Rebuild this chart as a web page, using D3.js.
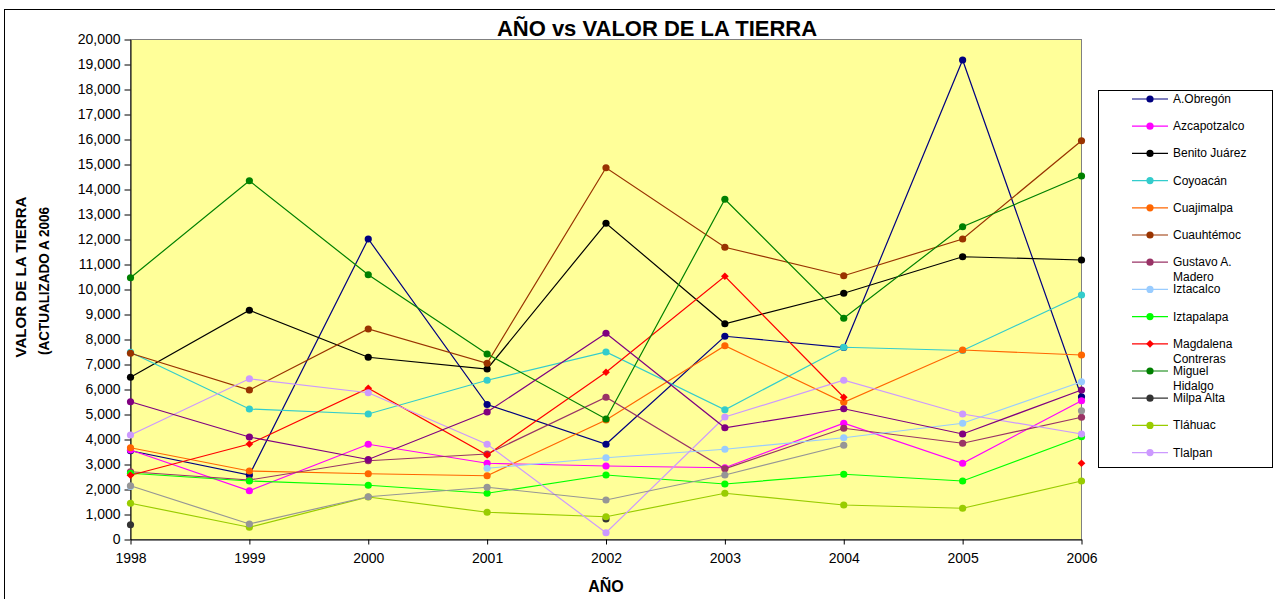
<!DOCTYPE html>
<html>
<head>
<meta charset="utf-8">
<script src="https://cdn.jsdelivr.net/npm/d3@7"></script>
<style>
    body { margin: 0; background: #fff; }
    svg text { font-family: "Liberation Sans", Arial, sans-serif; fill: #000; }
</style>
</head>
<body>
<div id="chart"></div>
<script>
// 年份 (categorías del eje X)
const years = [1998, 1999, 2000, 2001, 2002, 2003, 2004, 2005, 2006];

// nombres de las delegaciones, en el orden de las series
const delegaciones = [
    "A.Obregón", "Azcapotzalco", "Benito Juárez", "Coyoacán", "Cuajimalpa",
    "Cuauhtémoc", "Gustavo A. Madero", "Iztacalco", "Iztapalapa",
    "Magdalena Contreras", "Miguel Hidalgo", "Milpa Alta", "Tláhuac", "Tlalpan",
    "Venustiano Carranza", "Xochimilco"
];

// valores (null = sin dato)
const aObregon     = [3550, 2580, 12020, 5400, 3810, 8130, 7680, 19180, 5710];
const azcapotzalco = [3580, 1950, 3810, 3050, 2940, 2870, 4650, 3050, 5550];
const benitoJuarez = [6490, 9170, 7290, 6820, 12650, 8630, 9850, 11310, 11180];
const coyoacan     = [7490, 5220, 5020, 6370, 7500, 5190, 7690, 7560, 9780];
const cuajimalpa   = [3670, 2740, 2630, 2550, 4780, 7750, 5490, 7580, 7380];
const cuauhtemoc   = [7450, 5980, 8420, 7050, 14870, 11690, 10550, 12020, 15950];
const gustavoMadero = [2710, 2380, 3150, 3420, 5690, 2830, 4450, 3850, 4890];
const iztacalco    = [2120, null, null, 2850, 3270, 3610, 4070, 4650, 6310];
const iztapalapa   = [2650, 2340, 2170, 1850, 2580, 2220, 2610, 2340, 4110];
const magdalena    = [2570, 3820, 6050, 3380, 6690, 10530, 5690, null, 3050];
const miguelHidalgo = [10470, 14350, 10590, 7420, 4820, 13610, 8850, 12510, 14540];
const milpaAlta    = [590, null, null, null, 820, null, null, null, null];
const tlahuac      = [1450, 490, 1700, 1090, 910, 1850, 1380, 1250, 2340];
const tlalpan      = [4180, 6430, 5870, 3810, 270, 4900, 6370, 5020, 4220];
const venustiano   = [5510, 4100, 3200, 5100, 8250, 4470, 5230, 4220, 5980];
const xochimilco   = [2150, 620, 1710, 2090, 1580, 2580, 3770, null, 5150];

const seriesValues = [
    aObregon, azcapotzalco, benitoJuarez, coyoacan, cuajimalpa, cuauhtemoc,
    gustavoMadero, iztacalco, iztapalapa, magdalena, miguelHidalgo, milpaAlta,
    tlahuac, tlalpan, venustiano, xochimilco
];

// marcas del eje Y
const yTicks = d3.range(0, 20001, 1000);

// colores de cada serie
const colors = [
    "#000080", "#FF00FF", "#000000", "#33CCCC", "#FF6600", "#993300",
    "#993366", "#99CCFF", "#00FF00", "#FF0000", "#008000", "#333333",
    "#99CC00", "#CC99FF", "#800080", "#969696"
];

class LandValueChart {
    constructor(container) {
        this.container = container;
        this.width = 1275;
        this.height = 599;
        this.plot = { left: 130.5, right: 1081.5, top: 39.5, bottom: 539.5 };
        this.legendCount = 14;   // la caja de leyenda solo muestra 14 series
        this.init();
    }

    init() {
        d3.select(this.container).html("");
        this.svg = d3.select(this.container)
            .append("svg")
            .attr("width", this.width)
            .attr("height", this.height);
    }

    render() {
        const p = this.plot;
        const svg = this.svg;

        const data = delegaciones.map((name, i) => ({
            name: name,
            color: colors[i],
            diamond: name === "Magdalena Contreras",
            values: years.map((y, j) => ({ year: y, value: seriesValues[i][j] }))
        }));

        const x = d3.scalePoint().domain(years).range([p.left, p.right]);
        const y = d3.scaleLinear().domain([0, 20000]).range([p.bottom, p.top]);

        // borde del área del gráfico
        svg.append("rect")
            .attr("x", 4.5).attr("y", 9.5)
            .attr("width", 1400).attr("height", 700)
            .attr("fill", "#fff").attr("stroke", "#000");

        // área de trazado
        svg.append("rect")
            .attr("x", p.left).attr("y", p.top)
            .attr("width", p.right - p.left).attr("height", p.bottom - p.top)
            .attr("fill", "#FFFF99").attr("stroke", "#808080");

        svg.append("text")
            .attr("x", 657).attr("y", 36)
            .attr("text-anchor", "middle")
            .style("font-size", "22px").style("font-weight", "bold")
            .text("AÑO vs VALOR DE LA TIERRA");

        // ejes
        const yAxis = svg.append("g")
            .attr("transform", `translate(${p.left},0)`)
            .call(d3.axisLeft(y).tickValues(yTicks).tickFormat(d3.format(",")).tickSize(6).tickSizeOuter(0));
        yAxis.selectAll("text").style("font-size", "14px").attr("x", -10);

        const xAxis = svg.append("g")
            .attr("transform", `translate(0,${p.bottom})`)
            .call(d3.axisBottom(x).tickSize(5).tickSizeOuter(0));
        xAxis.selectAll("text").style("font-size", "14px").attr("y", 14);

        svg.selectAll(".domain, .tick line").attr("stroke", "#000");

        // líneas
        const line = d3.line()
            .defined(d => d.value !== null)
            .x(d => x(d.year))
            .y(d => y(d.value));

        // rombo = cuadrado girado 45°
        const diamond = d3.symbol(d3.symbolSquare, 30);

        const g = svg.append("g");
        data.forEach(s => {
            g.append("path")
                .attr("d", line(s.values))
                .attr("fill", "none")
                .attr("stroke", s.color)
                .attr("stroke-width", 1.2);

            const pts = s.values.filter(d => d.value !== null);
            if (s.diamond) {
                g.selectAll(null).data(pts).join("path")
                    .attr("transform", d => `translate(${x(d.year)},${y(d.value)}) rotate(45)`)
                    .attr("d", diamond)
                    .attr("fill", s.color);
            } else {
                g.selectAll(null).data(pts).join("circle")
                    .attr("cx", d => x(d.year))
                    .attr("cy", d => y(d.value))
                    .attr("r", 3.6)
                    .attr("fill", s.color);
            }
        });

        // títulos de los ejes
        svg.append("text")
            .attr("x", 606).attr("y", 592)
            .attr("text-anchor", "middle")
            .style("font-size", "16px").style("font-weight", "bold")
            .text("AÑO");

        const yTitle = [
            { text: "VALOR DE LA TIERRA", x: 26, cy: 277, len: 161 },
            { text: "(ACTUALIZADO A 2006", x: 49, cy: 281, len: 148 }
        ];
        yTitle.forEach(t => {
            svg.append("text")
                .attr("transform", `translate(${t.x},${t.cy}) rotate(-90)`)
                .attr("text-anchor", "middle")
                .attr("textLength", t.len)
                .attr("lengthAdjust", "spacingAndGlyphs")
                .style("font-size", "15px").style("font-weight", "bold")
                .text(t.text);
        });

        this.drawLegend(data.slice(0, this.legendCount), diamond);
    }

    drawLegend(items, diamond) {
        const lg = this.svg.append("g");
        lg.append("rect")
            .attr("x", 1098.5).attr("y", 90.5)
            .attr("width", 174).attr("height", 377)
            .attr("fill", "#fff").attr("stroke", "#000");

        items.forEach((s, i) => {
            const cy = 99 + i * 27.2;
            lg.append("line")
                .attr("x1", 1132).attr("x2", 1168)
                .attr("y1", cy).attr("y2", cy)
                .attr("stroke", s.color).attr("stroke-width", 1.2);
            if (s.diamond) {
                lg.append("path")
                    .attr("transform", `translate(1150,${cy}) rotate(45)`)
                    .attr("d", diamond)
                    .attr("fill", s.color);
            } else {
                lg.append("circle")
                    .attr("cx", 1150).attr("cy", cy).attr("r", 3.6)
                    .attr("fill", s.color);
            }

            // partir el nombre si no cabe
            const text = lg.append("text")
                .attr("x", 1173).attr("y", cy + 4)
                .style("font-size", "12px");
            const words = s.name.split(" ");
            let lineWords = [];
            let tspan = text.append("tspan").attr("x", 1173);
            words.forEach(w => {
                lineWords.push(w);
                tspan.text(lineWords.join(" "));
                if (tspan.node().getComputedTextLength() > 76 && lineWords.length > 1) {
                    lineWords.pop();
                    tspan.text(lineWords.join(" "));
                    lineWords = [w];
                    tspan = text.append("tspan").attr("x", 1173).attr("dy", 15).text(w);
                }
            });
        });
    }
}

const chart = new LandValueChart("#chart");
chart.render();
</script>
</body>
</html>
